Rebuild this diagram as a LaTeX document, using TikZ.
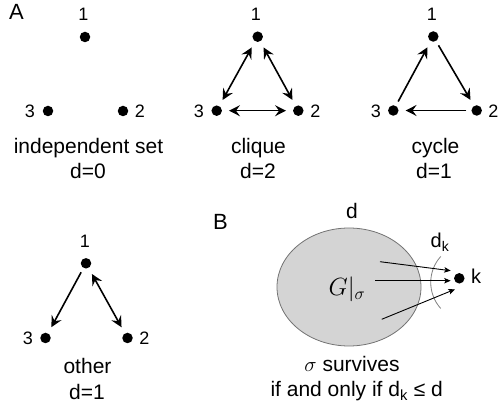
\documentclass[tikz,border=0pt]{standalone}
\usepackage{fontspec}
\setmainfont{Liberation Sans}
\usetikzlibrary{arrows.meta}
\begin{document}
\begin{tikzpicture}[x=1pt,y=-1pt,
  dot/.style={circle,fill=black,inner sep=0pt,minimum size=10.5pt,outer sep=0pt},
  numlab/.style={anchor=base,inner sep=0pt,font=\fontsize{18}{21}\selectfont},
  txt/.style={anchor=base,inner sep=0pt,font=\fontsize{21}{25}\selectfont},
  panel/.style={anchor=base west,inner sep=0pt,font=\fontsize{22}{26}\selectfont},
  headA/.tip={Stealth[length=11pt,width=11pt,inset=4pt]},
  edge/.style={line width=1.6pt,-headA,shorten >=7pt,shorten <=5pt},
  bedge/.style={line width=1.6pt,headA-headA,shorten >=7pt,shorten <=7pt},
  thinarrow/.style={line width=0.9pt,-{Stealth[length=6.5pt,width=5.5pt,inset=1.5pt]}},
]
\useasboundingbox (0,0) rectangle (499,406);

% Panel labels
\node[panel] (A) at (9,20) {A};
\node[panel] (B) at (213,230) {B};

% Independent set
\node[dot] (i1) at (85,37) {};
\node[dot] (i3) at (48,111) {};
\node[dot] (i2) at (123,111) {};
\node[numlab] (li1) at (83.5,21) {1};
\node[numlab] (li3) at (30,117.5) {3};
\node[numlab] (li2) at (140,117.5) {2};
\node[txt] (ti) at (88.5,154) {independent set};
\node[txt] (di) at (88,179) {d=0};

% Clique
\node[dot] (c1) at (257.7,36.7) {};
\node[dot] (c3) at (216.7,110.7) {};
\node[dot] (c2) at (298.3,110.7) {};
\node[numlab] (lc1) at (256,21) {1};
\node[numlab] (lc3) at (199,117.5) {3};
\node[numlab] (lc2) at (315.5,117.5) {2};
\draw[bedge] (c1) -- (c3);
\draw[bedge] (c1) -- (c2);
\draw[bedge] (c3) -- (c2);
\node[txt] (tc) at (258.5,154) {clique};
\node[txt] (dc) at (258,179) {d=2};

% Cycle
\node[dot] (y1) at (433.3,36.5) {};
\node[dot] (y3) at (393.3,110.5) {};
\node[dot] (y2) at (476.7,110.5) {};
\node[numlab] (ly1) at (432,21) {1};
\node[numlab] (ly3) at (376,117.5) {3};
\node[numlab] (ly2) at (493.5,117.5) {2};
\draw[edge] (y3) -- (y1);
\draw[edge] (y1) -- (y2);
\draw[edge] (y2) -- (y3);
\node[txt] (ty) at (435.5,154) {cycle};
\node[txt] (dy) at (434,179) {d=1};

% Other
\node[dot] (o1) at (86,263.3) {};
\node[dot] (o3) at (45.5,338) {};
\node[dot] (o2) at (127.5,338) {};
\node[numlab] (lo1) at (85,248) {1};
\node[numlab] (lo3) at (28,344.5) {3};
\node[numlab] (lo2) at (144.5,344.5) {2};
\draw[edge] (o1) -- (o3);
\draw[bedge] (o1) -- (o2);
\node[txt] (to) at (87.5,373.3) {other};
\node[txt] (do) at (87,399.3) {d=1};

% Panel B
\draw[draw=black!55,fill=black!17,line width=0.8pt] (349,287) ellipse [x radius=72pt, y radius=59pt];
\node[txt] (dtop) at (352,219) {d};
\node[anchor=base,inner sep=0pt,font=\fontsize{25}{30}\selectfont] (G) at (347,296) {$G|_\sigma$};
\node[dot] (k) at (459.3,278.3) {};
\node[anchor=base west,inner sep=0pt,font=\fontsize{20}{24}\selectfont] (kl) at (471,284) {k};
\node[anchor=base west,inner sep=0pt,font=\fontsize{20}{24}\selectfont] (dk) at (430.5,248) {d\textsubscript{k}};
\draw[black!50,line width=0.8pt] (440.7,256.5) arc[start angle=138,end angle=222,radius=38.8pt];
\coordinate (s1) at (380,261.7);
\coordinate (s2) at (375,280.7);
\coordinate (s3) at (381.7,319.3);
\coordinate (t1) at (450.7,270.7);
\coordinate (t2) at (450.7,280.7);
\coordinate (t3) at (455,289.3);
\draw[thinarrow] (s1) -- (t1);
\draw[thinarrow] (s2) -- (t2);
\draw[thinarrow] (s3) -- (t3);
\node[txt] (surv) at (352,371.7) {$\sigma$ survives};
\node[txt] (iff) at (356.7,396.7) {if and only if d\textsubscript{k} ≤ d};
\end{tikzpicture}
\end{document}
